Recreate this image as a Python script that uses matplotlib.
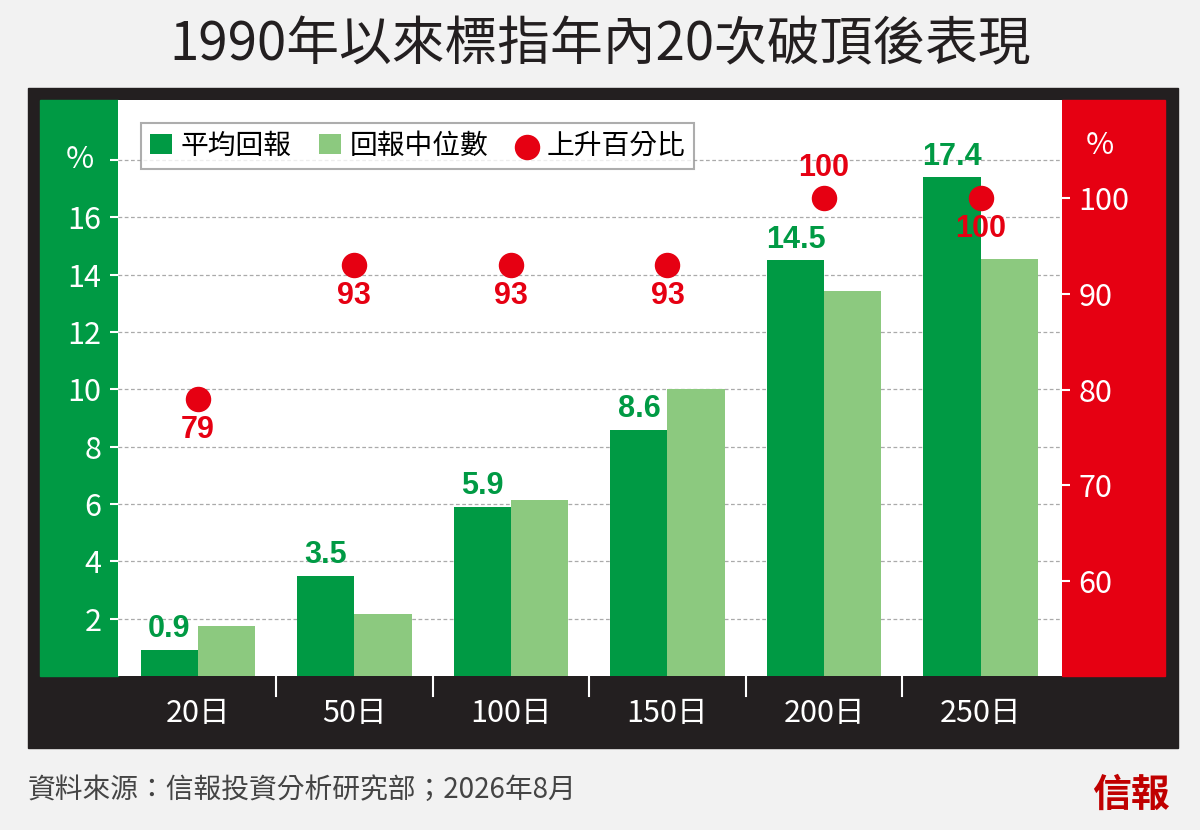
import matplotlib.pyplot as plt
from matplotlib.patches import Rectangle

plt.rcParams['font.family'] = ['Noto Sans CJK TC', 'DejaVu Sans']

# data
categories = ['20日', '50日', '100日', '150日', '200日', '250日']
mean_ret = [0.9, 3.5, 5.9, 8.6, 14.5, 17.4]
median_ret = [1.75, 2.15, 6.15, 10.0, 13.45, 14.55]
pct_up = [79, 93, 93, 93, 100, 100]

DARK = '#231f20'
GREEN = '#009a44'
LIGHT = '#8cc97f'
RED = '#e60012'
W, H = 1200, 830


def fx(x):
    return x / W


def fy(y):
    return 1 - y / H


fig = plt.figure(figsize=(12, 8.3), dpi=100, facecolor='#f2f2f2')

# background frame and side panels, in pixel coords
bg = fig.add_axes([0, 0, 1, 1], zorder=-1)
bg.set_xlim(0, W)
bg.set_ylim(H, 0)
bg.axis('off')
bg.add_patch(Rectangle((28, 88), 1150, 660, color=DARK))
bg.add_patch(Rectangle((40, 100), 78, 576, color=GREEN))
bg.add_patch(Rectangle((1062, 100), 103, 576, color=RED))

ax = fig.add_axes([fx(118), fy(676), fx(944), 576 / H], zorder=1)
ax.set_facecolor('white')
x = list(range(len(categories)))
bw = 0.365
ax.bar([i - bw / 2 for i in x], mean_ret, bw, color=GREEN, label='平均回報', zorder=2)
ax.bar([i + bw / 2 for i in x], median_ret, bw, color=LIGHT, label='回報中位數', zorder=2)
ax.set_xlim(-0.51, 5.52)
ax.set_ylim(0, 20.1)
ax.set_yticks(range(2, 19, 2))
ax.yaxis.grid(True, ls=(0, (3, 2)), color='#aaaaaa', lw=0.9, zorder=0)
ax.set_axisbelow(True)
ax.set_yticklabels([str(v) if v <= 16 else '' for v in range(2, 19, 2)])
ax.tick_params(axis='y', colors='white', labelsize=22, length=6, width=1.5,
               direction='out', pad=6)
ax.tick_params(axis='x', colors='white', labelsize=22, length=0, pad=16)
ax.set_xticks(x)
ax.set_xticklabels(categories)
for s in ax.spines.values():
    s.set_visible(False)
for i, v in zip(x, mean_ret):
    ax.text(i - bw / 2, v + 0.2, f'{v}', ha='center', va='bottom',
            color=GREEN, fontsize=22, fontweight='bold', family='Liberation Sans')

ax2 = ax.twinx()
ax2.set_ylim(50.05, 110.3)
ax2.scatter(x, pct_up, s=300, color=RED, zorder=5, label='上升百分比')
ax2.set_yticks(range(60, 101, 10))
ax2.tick_params(axis='y', colors='white', labelsize=22, length=6, width=1.5, pad=6)
for s in ax2.spines.values():
    s.set_visible(False)
for i, v in zip(x, pct_up):
    if i == 4:
        ax2.text(i, v + 1.6, str(v), ha='center', va='bottom', color=RED,
                 fontsize=22, fontweight='bold', family='Liberation Sans', zorder=6)
    else:
        ax2.text(i, v - 1.6, str(v), ha='center', va='top', color=RED,
                 fontsize=22, fontweight='bold', family='Liberation Sans', zorder=6)

# x separators in dark band
for b in [0.5, 1.5, 2.5, 3.5, 4.5]:
    ax.plot([b, b], [0, -0.7], color='white', lw=1.5, clip_on=False)

# legend
h1, l1 = ax.get_legend_handles_labels()
h2, l2 = ax2.get_legend_handles_labels()
leg = ax2.legend(h1 + h2, l1 + l2, loc='upper left', ncol=3, fontsize=20,
                 frameon=True, fancybox=False, edgecolor='#999999',
                 bbox_to_anchor=(0.01, 0.985), handlelength=0.8,
                 handletextpad=0.3, columnspacing=1.0, borderpad=0.3)
leg.get_frame().set_linewidth(1.5)

fig.text(fx(80), fy(160), '%', color='white', fontsize=22, ha='center', va='center')
fig.text(fx(1100), fy(145), '%', color='white', fontsize=22, ha='center', va='center')

fig.text(0.5, fy(45), '1990年以來標指年內20次破頂後表現', ha='center', va='center',
         fontsize=38, color=DARK, fontweight='medium')
fig.text(fx(28), fy(790), '資料來源：信報投資分析研究部；2026年8月', ha='left',
         va='center', fontsize=20, color='#444444')
fig.text(fx(1170), fy(795), '信報', ha='right', va='center', fontsize=28,
         color='#c00000', fontweight='bold')

fig.savefig('out.png', dpi=100, facecolor=fig.get_facecolor())
